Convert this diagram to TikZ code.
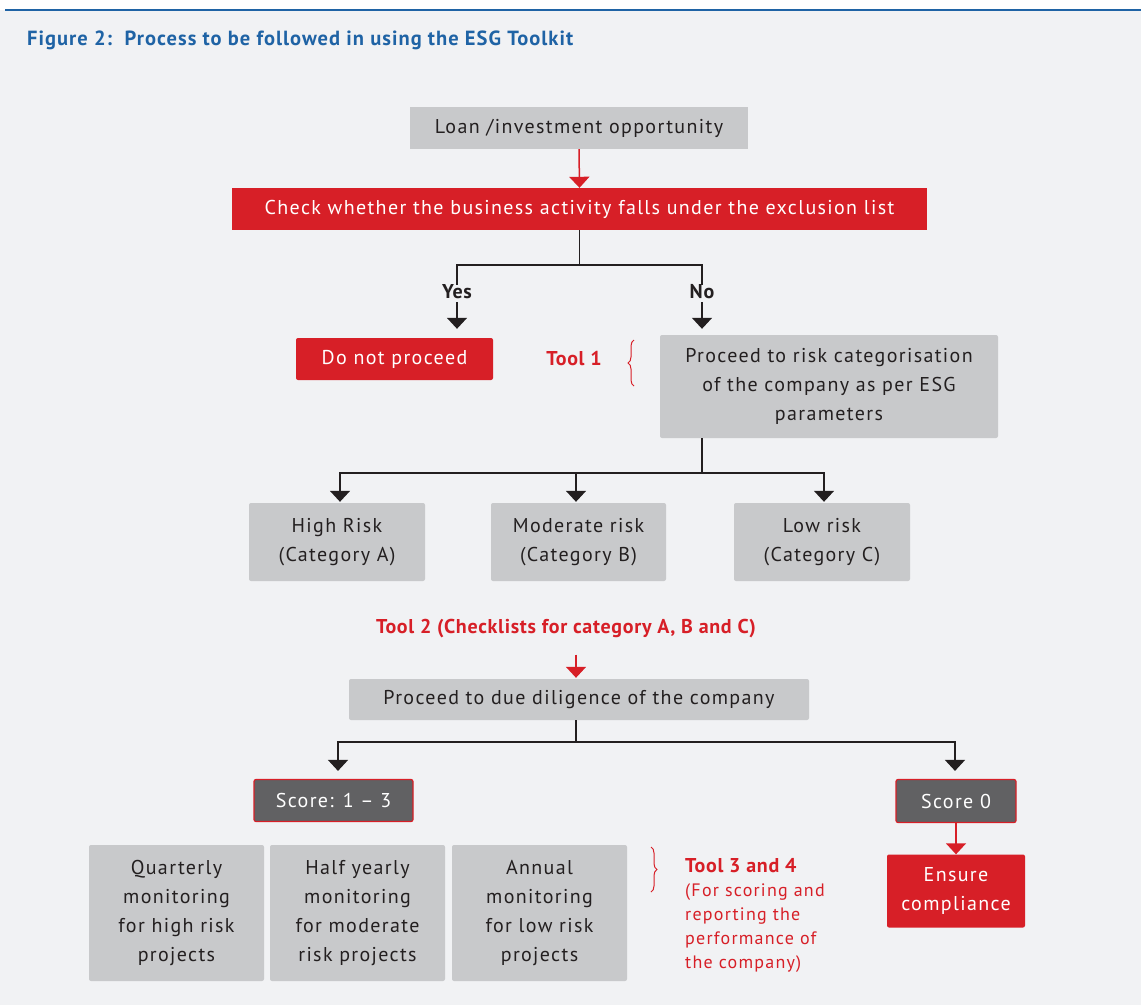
\documentclass[tikz,border=0pt]{standalone}
\usepackage{fontspec}
\setmainfont[LetterSpace=6.8]{PT Sans}
\newfontfamily\boldfam[LetterSpace=3.5]{PT Sans}
\newfontfamily\titlefam[LetterSpace=5]{PT Sans}
\usetikzlibrary{arrows.meta,decorations.pathreplacing,calc}
\definecolor{esgred}{HTML}{D71F27}
\definecolor{boxgray}{HTML}{C8C9CB}
\definecolor{darkbox}{HTML}{616163}
\definecolor{bggray}{HTML}{F1F2F4}
\definecolor{titleblue}{HTML}{1F63A5}
\definecolor{txt}{HTML}{231F20}
\tikzset{
  base/.style={inner sep=0pt, align=center, text=txt, font=\fontsize{20}{29}\selectfont},
  graybox/.style={base, fill=boxgray},
  redbox/.style={base, fill=esgred, text=white},
  scorebox/.style={base, fill=darkbox, text=white, draw=esgred, line width=1.2pt, rounded corners=2pt},
  conn/.style={draw=txt, line width=1.5pt},
  arr/.style={conn, -{Triangle[width=20pt,length=11pt]}},
  redarr/.style={draw=esgred, line width=1.5pt, -{Triangle[width=20pt,length=11pt]}},
  lbl/.style={inner sep=0pt, text=txt, font=\fontsize{20}{24}\selectfont\boldfam\bfseries},
  redlbl/.style={inner sep=0pt, text=esgred, font=\fontsize{20}{24}\selectfont\boldfam\bfseries},
}
\begin{document}
\begin{tikzpicture}[x=1pt,y=-1pt]
\useasboundingbox (0,0) rectangle (1141,1005);
\fill[white] (0,0) rectangle (1141,1005);
\fill[bggray] (0,10) rectangle (1141,1005);
\draw[titleblue, line width=1.5pt] (5,10) -- (1141,10);
\node[anchor=west, inner sep=0pt, text=titleblue, font=\fontsize{20.5}{24}\selectfont\titlefam\bfseries] (title) at (27,40) {Figure 2:\ \ Process to be followed in using the ESG Toolkit};

% boxes
\node[graybox, minimum width=338, minimum height=42] (loan) at (579,128) {Loan /investment opportunity};
\node[redbox, minimum width=695, minimum height=42] (chk) at (579.5,209) {Check whether the business activity falls under the exclusion list};
\node[redbox, minimum width=197, minimum height=42, rounded corners=2pt] (dnp) at (394.5,359) {Do not proceed};
\node[graybox, minimum width=338, minimum height=103, rounded corners=2pt] (prc) at (829,386.5) {Proceed to risk categorisation\\of the company as per ESG\\parameters};
\node[redlbl] (tool1) at (574,359) {Tool 1};

\node[lbl] (yes) at (457,292) {Yes};
\node[lbl] (no) at (702,292) {No};

\node[graybox, minimum width=176, minimum height=78, rounded corners=2pt] (high) at (337,542) {High Risk\\(Category A)};
\node[graybox, minimum width=175, minimum height=78, rounded corners=2pt] (mod) at (578.5,542) {Moderate risk\\(Category B)};
\node[graybox, minimum width=176, minimum height=78, rounded corners=2pt] (low) at (822,542) {Low risk\\(Category C)};

\node[redlbl] (tool2) at (566,629) {Tool 2 (Checklists for category A, B and C)};

\node[graybox, minimum width=460, minimum height=41, rounded corners=2pt] (dd) at (579,699.5) {Proceed to due diligence of the company};

\node[scorebox, minimum width=159, minimum height=42] (s13) at (333.5,800.5) {Score: 1 -- 3};
\node[scorebox, minimum width=120, minimum height=43] (s0) at (956,801) {Score 0};
\node[redbox, minimum width=138, minimum height=73, rounded corners=2pt] (ens) at (956,891) {Ensure\\compliance};

\node[graybox, minimum width=175, minimum height=136, rounded corners=2pt] (q) at (176.5,913) {Quarterly\\monitoring\\for high risk\\projects};
\node[graybox, minimum width=175, minimum height=136, rounded corners=2pt] (h) at (357.5,913) {Half yearly\\monitoring\\for moderate\\risk projects};
\node[graybox, minimum width=175, minimum height=136, rounded corners=2pt] (a) at (539.5,913) {Annual\\monitoring\\for low risk\\projects};

\node[anchor=north west, inner sep=0pt, align=left, text=esgred, font=\fontsize{18}{24}\selectfont] (tool34) at (685,858) {{\fontsize{20}{24}\selectfont\boldfam\bfseries Tool 3 and 4}\\(For scoring and\\reporting the\\performance of\\the company)};

% braces
\draw[esgred, line width=1pt, decorate, decoration={brace, amplitude=6pt}] (634,386) -- (634,340) coordinate (b1);
\draw[esgred, line width=1pt, decorate, decoration={brace, amplitude=6pt}] (651,847) -- (651,892) coordinate (b2);

% connectors
\draw[redarr] (loan.south) -- (chk.north);
\draw[conn] (chk.south) -- ++(0,35) coordinate (j1);
\draw[conn] (j1) -| (yes.north);
\draw[conn] (j1) -| (no.north);
\draw[arr] (yes.south) ++(0,3) -- ($(dnp.north -| yes)+(0,-9)$);
\draw[arr] (no.south) ++(0,3) -- ($(prc.north -| no)+(0,-6)$);

\draw[conn] (prc.south -| no) -- ++(0,35) coordinate (j2);
\draw[arr] (j2) -| ($(high.north)+(3,-1)$);
\draw[arr] (j2) -| ($(mod.north)+(-2.5,-1)$);
\draw[arr] (j2) -| ($(low.north)+(2,-1)$);

\draw[redarr] ($(tool2.south -| dd.north)+(-3,16)$) -- ($(dd.north)+(-3,-1)$);

\draw[conn] ($(dd.south)+(-3,0)$) -- ++(0,22) coordinate (j3);
\draw[arr] (j3) -| ($(s13.north)+(4.5,-8)$);
\draw[arr] (j3) -| ($(s0.north)+(-1,-8)$);

\draw[redarr] (s0.south) -- (ens.north);
\end{tikzpicture}
\end{document}
